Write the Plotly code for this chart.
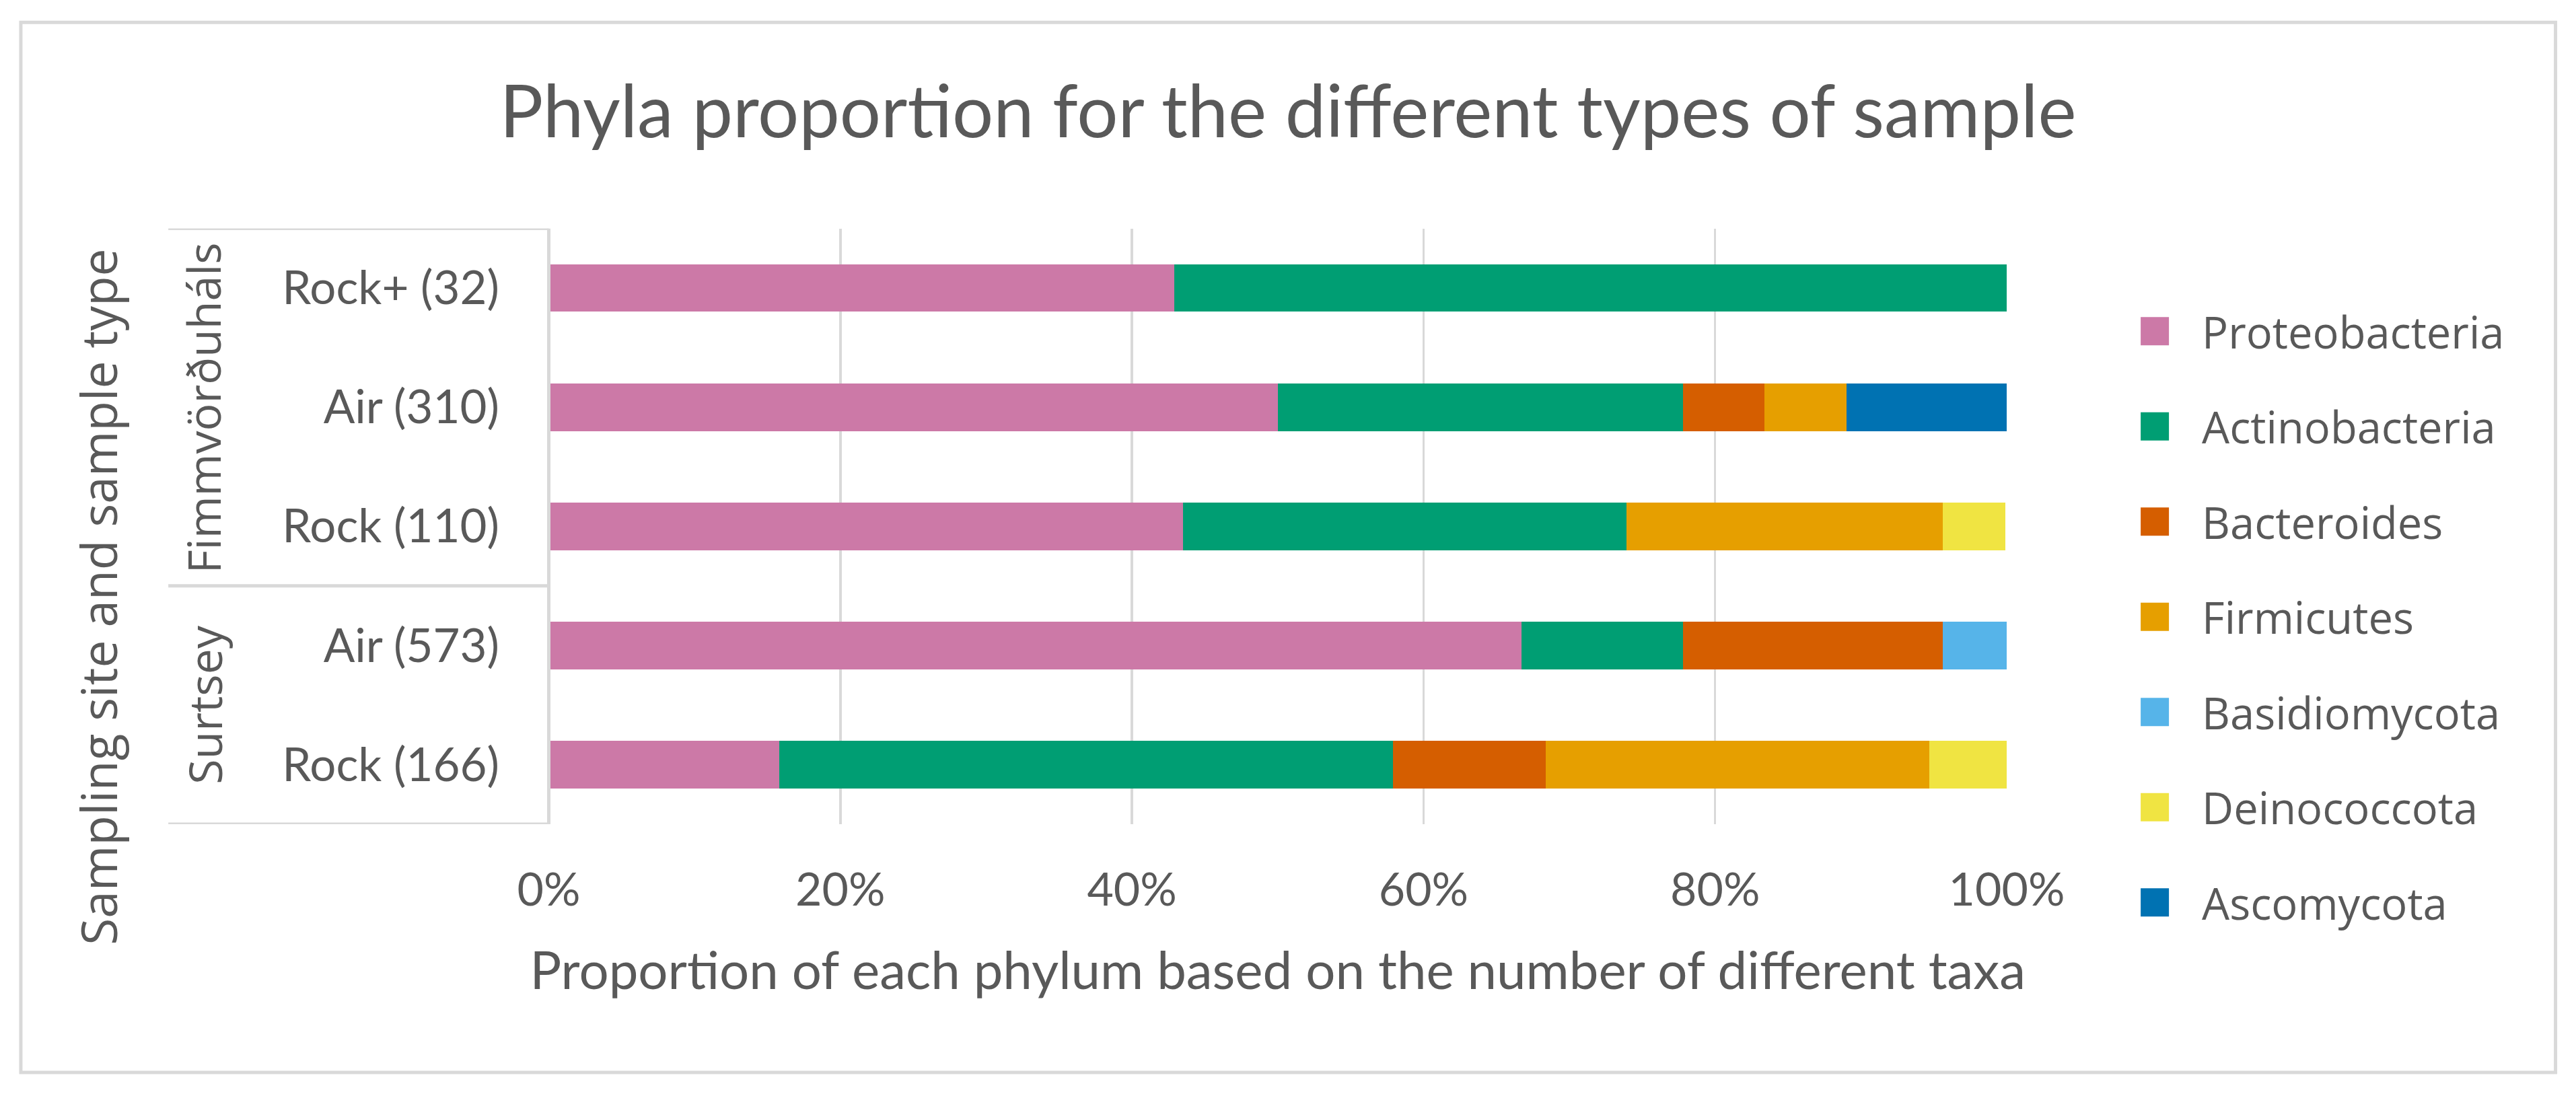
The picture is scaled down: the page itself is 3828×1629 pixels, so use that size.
import plotly.graph_objects as go

# ---------------- data ----------------
samples = ["Rock (166)", "Air (573)", "Rock (110)", "Air (310)", "Rock+ (32)"]
site_names = ["Surtsey", "Fimmvörðuháls"]
site_sizes = [2, 3]
phyla = ["Proteobacteria", "Actinobacteria", "Bacteroides", "Firmicutes",
         "Basidiomycota", "Deinococcota", "Ascomycota"]
colors = ["#CC79A7", "#009E73", "#D55E00", "#E69F00", "#56B4E9", "#F0E442", "#0072B2"]
proteobacteria = [15.8, 66.7, 43.5, 50.0, 42.9]
actinobacteria = [42.1, 11.1, 30.4, 27.8, 57.1]
bacteroides = [10.5, 17.8, 0, 5.6, 0]
firmicutes = [26.3, 0, 21.7, 5.6, 0]
basidiomycota = [0, 4.4, 0, 0, 0]
deinococcota = [5.3, 0, 4.3, 0, 0]
ascomycota = [0, 0, 0, 11.1, 0]
series = [proteobacteria, actinobacteria, bacteroides, firmicutes,
          basidiomycota, deinococcota, ascomycota]
x_ticks = [0, 20, 40, 60, 80, 100]
x_tick_labels = ["0%", "20%", "40%", "60%", "80%", "100%"]

# ---------------- geometry (in final screen pixels) ----------------
S = 3.5
W, H = 3828, 1629
L, R, T, B = 815, 2980, 338, 1226
def px(v):
    return v / S
def xp(v):
    return (v - L) / (R - L)
def yp(v):
    return (B - v) / (B - T)

TXT = "#595959"
GRID = "#D9D9D9"
CAL = "Lato, Carlito, Calibri, sans-serif"
SEG = "Open Sans, Segoe UI, sans-serif"

fig = go.Figure()
for i, (name, vals, col) in enumerate(zip(phyla, series, colors)):
    fig.add_trace(go.Bar(
        y=samples, x=[v if v else None for v in vals], name=name,
        orientation="h", marker=dict(color=col, line=dict(width=0)),
        legendgroup=name,
    ))

shapes = []
# group box lines on the category axis
bounds = [-0.5]
for s in site_sizes:
    bounds.append(bounds[-1] + s)
for b in bounds:
    shapes.append(dict(type="line", xref="paper", yref="y", x0=xp(250), x1=0,
                       y0=b, y1=b, line=dict(color=GRID, width=px(5))))
shapes.append(dict(type="line", xref="paper", yref="y", x0=0, x1=0,
                   y0=bounds[0], y1=bounds[-1], line=dict(color=GRID, width=px(5))))
# outer chart border
shapes.append(dict(type="rect", xref="paper", yref="paper", x0=xp(31), x1=xp(3795),
                   y0=yp(1596), y1=yp(31), line=dict(color=GRID, width=px(5)),
                   layer="below"))

annotations = []
for k, (name, size) in enumerate(zip(site_names, site_sizes)):
    center = (bounds[k] + bounds[k + 1]) / 2
    annotations.append(dict(text=name, xref="paper", yref="y", x=xp(303), y=center,
                            textangle=-90, showarrow=False, xanchor="center", yanchor="middle",
                            font=dict(family=SEG, size=px(68), color=TXT)))
annotations.append(dict(text="Sampling site and sample type", xref="paper", yref="paper",
                        x=xp(145), y=yp(885), textangle=-90, showarrow=False,
                        xanchor="center", yanchor="middle",
                        font=dict(family=SEG, size=px(73), color=TXT)))

fig.update_layout(
    width=W / S, height=H / S,
    margin=dict(l=px(L), r=px(W - R), t=px(T), b=px(H - B), pad=0),
    paper_bgcolor="white", plot_bgcolor="white",
    barmode="stack", bargap=0.6,
    title=dict(text="Phyla proportion for the different types of sample",
               x=0.5, xanchor="center", xref="container",
               y=1 - 166 / H, yanchor="middle", yref="container",
               font=dict(family=CAL, size=px(108), color=TXT)),
    xaxis=dict(range=[0, 100], tickmode="array", tickvals=x_ticks, ticktext=x_tick_labels,
               showgrid=True, gridcolor=GRID, gridwidth=px(5), zeroline=False, showline=False,
               ticks="", ticklabelstandoff=round(px(50)),
               tickfont=dict(family=CAL, size=px(68), color=TXT),
               title=dict(text="Proportion of each phylum based on the number of different taxa",
                          font=dict(family=CAL, size=px(78), color=TXT), standoff=px(58))),
    yaxis=dict(categoryorder="array", categoryarray=samples, showgrid=False,
               zeroline=False, showline=False, ticks="", ticklabelstandoff=round(px(70)),
               tickfont=dict(family=CAL, size=px(69), color=TXT),
               range=[-0.5, 4.5]),
    legend=dict(x=xp(3130), xanchor="left", y=yp(426), yanchor="top", yref="paper",
                traceorder="grouped", tracegroupgap=px(46.5), maxheight=px(1150),
                font=dict(family=SEG, size=px(65), color=TXT),
                bgcolor="rgba(0,0,0,0)", borderwidth=0),
    shapes=shapes, annotations=annotations,
)

fig.write_html("out.html", config={"displayModeBar": False}, post_script=(
    "document.documentElement.style.overflow='hidden';"
    "document.body.style.margin='0';"
    "document.body.style.transformOrigin='0 0';"
    "document.body.style.transform='scale(%s)';" % S))
